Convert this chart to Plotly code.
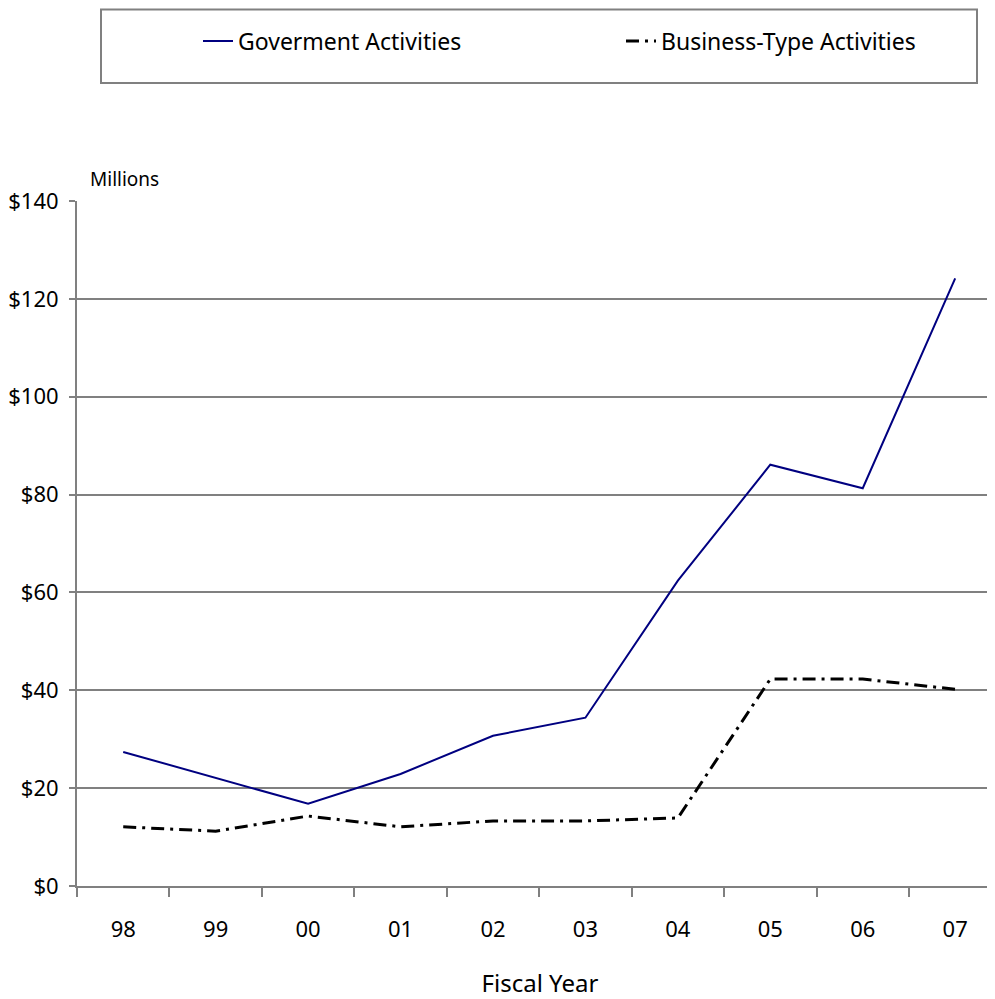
import plotly.graph_objects as go

years = ["98", "99", "00", "01", "02", "03", "04", "05", "06", "07"]
gov = [27.4, 22.1, 16.8, 22.9, 30.7, 34.4, 62.4, 86.1, 81.3, 124.2]
biz = [12.1, 11.2, 14.3, 12.1, 13.3, 13.3, 13.9, 42.3, 42.3, 40.2]
gov_name = "Goverment Activities"
biz_name = "Business-Type Activities"

W, H = 995, 999
OFF = 8  # page body offset
L, R, T, B = 77 - OFF, 0, 201 - OFF, 999 - (886 - OFF)
pw = W - L - R
ph = H - T - B
font_family = "Noto Sans, DejaVu Sans, sans-serif"

fig = go.Figure()
fig.add_trace(go.Scatter(x=years, y=gov, name=gov_name, mode="lines",
                         line=dict(color="#000080", width=2)))
fig.add_trace(go.Scatter(x=years, y=biz, name=biz_name, mode="lines",
                         line=dict(color="#000000", width=3, dash="13px,6px,3px,6px")))

def px_x(p):
    return (p - OFF - L) / pw

def px_y(p):
    return (H - B - (p - OFF)) / ph

fig.update_layout(
    width=W, height=H,
    margin=dict(l=L, r=R, t=T, b=B, autoexpand=False),
    paper_bgcolor="white", plot_bgcolor="white",
    font=dict(family=font_family, size=22, color="#000000"),
    showlegend=True,
    legend=dict(orientation="h", x=px_x(198), y=px_y(41), xanchor="left", yanchor="middle",
                entrywidth=378, entrywidthmode="pixels", font=dict(size=23),
                bgcolor="rgba(0,0,0,0)"),
    xaxis=dict(type="category", range=[-0.5, -0.5 + pw / 92.44],
               tickson="boundaries", ticks="outside", ticklen=9, tickcolor="#808080",
               tickwidth=2, showgrid=False, showline=True, linecolor="#808080", linewidth=2,
               ticklabelstandoff=23, zeroline=False,
               title=dict(text="Fiscal Year", font=dict(size=24), standoff=33)),
    yaxis=dict(range=[0, 140], dtick=20, tickprefix="$", ticks="outside", ticklen=6,
               tickcolor="#808080", tickwidth=2, showgrid=True, gridcolor="#808080",
               gridwidth=2, showline=True, linecolor="#808080", linewidth=2,
               zeroline=False, ticklabelstandoff=6),
    shapes=[dict(type="rect", xref="paper", yref="paper",
                 x0=px_x(101), x1=px_x(977), y0=px_y(83), y1=px_y(9.5),
                 line=dict(color="#808080", width=2), fillcolor="rgba(0,0,0,0)")],
    annotations=[dict(text="Millions", xref="paper", yref="paper", x=px_x(88), y=px_y(179),
                      xanchor="left", yanchor="middle", showarrow=False,
                      font=dict(size=19))],
)

fig.write_html("out.html")
